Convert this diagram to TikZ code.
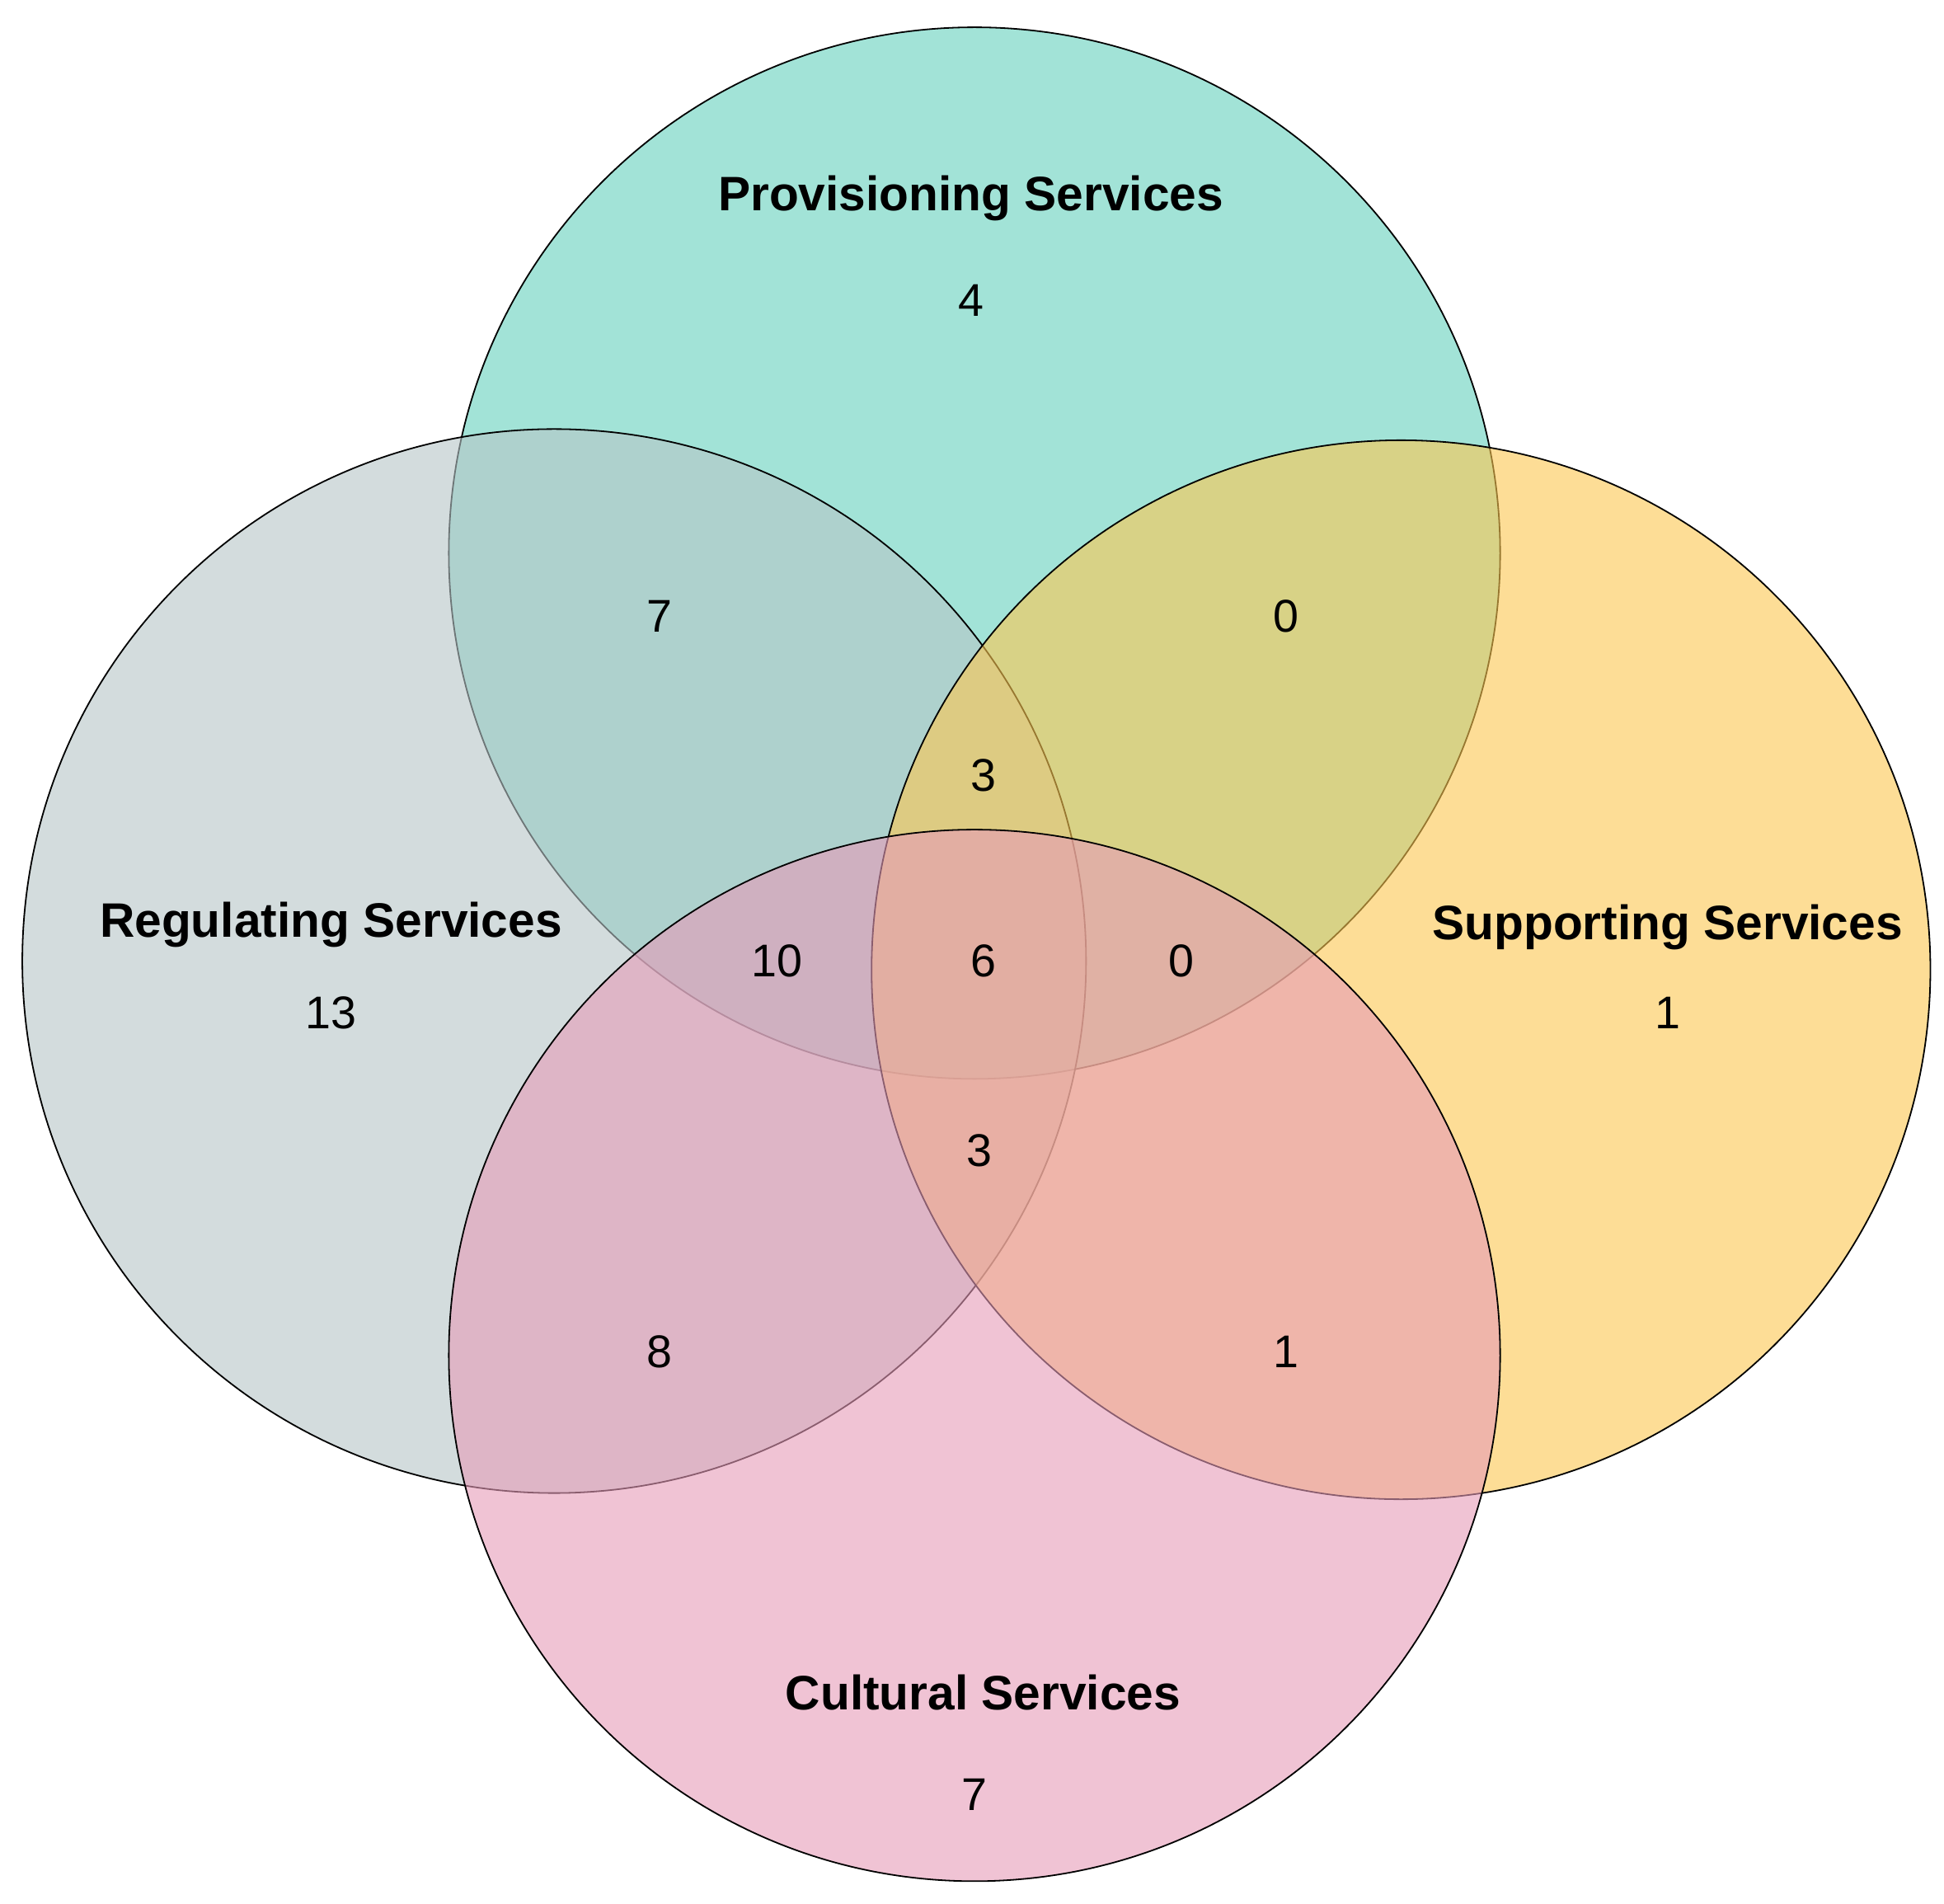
\documentclass[tikz,border=0pt]{standalone}
\usepackage{fontspec}
\setmainfont{Liberation Sans}
\begin{document}
\begin{tikzpicture}[x=1pt,y=-1pt,
  venn/.style={draw=black,line width=1.2pt,fill opacity=0.6},
  lab/.style={font=\fontsize{39}{44}\selectfont\bfseries},
  num/.style={font=\fontsize{37}{42}\selectfont}]
\useasboundingbox (0,0) rectangle (1568,1535);
\definecolor{cprov}{HTML}{64D1BD}
\definecolor{creg}{HTML}{B6C5C7}
\definecolor{csup}{HTML}{FDC750}
\definecolor{ccul}{HTML}{E69BB8}
\fill[white] (0,0) rectangle (1568,1535);
\path[venn,fill=cprov] (786,446) circle (424);
\path[venn,fill=creg] (447,775) circle (429);
\path[venn,fill=csup] (1130,782) circle (427);
\path[venn,fill=ccul] (786,1093) circle (424);
\node[lab] (tp) at (783,160) {Provisioning Services};
\node[num] (np) at (783,242) {4};
\node[num] (n1) at (532,497) {7};
\node[num] (n2) at (1037,497) {0};
\node[num] (n3) at (793,625) {3};
\node[lab] (tr) at (267,746) {Regulating Services};
\node[num] (nr) at (267,817) {13};
\node[num] (n4) at (627,775) {10};
\node[num] (n5) at (793,775) {6};
\node[num] (n6) at (953,775) {0};
\node[lab] (ts) at (1345,748) {Supporting Services};
\node[num] (ns) at (1345,817) {1};
\node[num] (n7) at (790,928) {3};
\node[num] (n8) at (532,1090) {8};
\node[num] (n9) at (1037,1090) {1};
\node[lab] (tc) at (793,1365) {Cultural Services};
\node[num] (nc) at (786,1447) {7};
\end{tikzpicture}
\end{document}
